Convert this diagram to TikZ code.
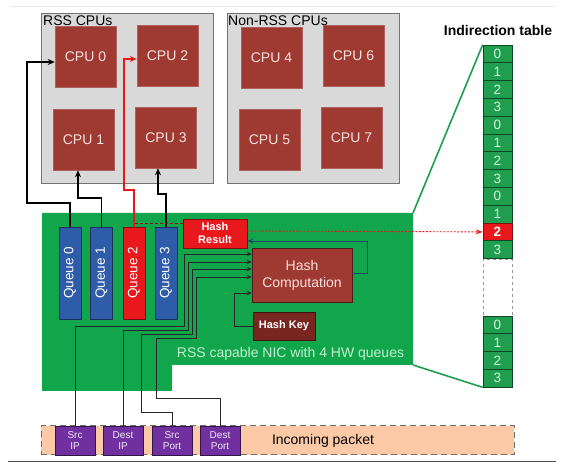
\documentclass[tikz,border=0pt]{standalone}
\usepackage{fontspec}
\setmainfont{Liberation Sans}
\usetikzlibrary{arrows.meta}
\definecolor{nicgreen}{RGB}{18,166,76}
\definecolor{tabgreen}{RGB}{30,158,78}
\definecolor{celltext}{RGB}{215,245,222}
\definecolor{nictext}{RGB}{195,240,205}
\definecolor{cpured}{RGB}{158,58,50}
\definecolor{cputext}{RGB}{250,225,220}
\definecolor{qblue}{RGB}{46,92,168}
\definecolor{hred}{RGB}{232,24,28}
\definecolor{keybrown}{RGB}{122,38,32}
\definecolor{fpurple}{RGB}{112,48,160}
\definecolor{peach}{RGB}{251,201,166}
\definecolor{boxgray}{RGB}{217,217,217}
\definecolor{fbteal}{RGB}{31,70,100}
\begin{document}
\begin{tikzpicture}[x=1pt,y=-1pt,
  graybox/.style={fill=boxgray, draw=gray!90!black, line width=0.9pt, minimum width=172pt, minimum height=170pt, inner sep=0pt},
  boxlabel/.style={anchor=base west, inner sep=0pt, font=\fontsize{14}{16}\selectfont},
  cpu/.style={fill=cpured, draw=cpured!80!white, line width=0.5pt, minimum width=61pt, minimum height=61pt, inner sep=0pt, text=cputext, font=\fontsize{14}{16}\selectfont},
  queue/.style={fill=qblue, draw=qblue!55!black, line width=0.6pt, rotate=90, minimum width=92pt, minimum height=22pt, inner sep=0pt, text=white, font=\fontsize{13.5}{15}\selectfont},
  redq/.style={queue, fill=hred, draw=hred!55!black},
  cell/.style={fill=tabgreen, draw=tabgreen!45!black, line width=0.6pt, minimum width=29pt, minimum height=17.8pt, inner sep=0pt, text=celltext, font=\fontsize{13.5}{15}\selectfont},
  redcell/.style={cell, fill=hred, draw=hred!55!black, text=white, font=\fontsize{13.5}{15}\selectfont\bfseries},
  gapbox/.style={draw=gray!80, dashed, line width=0.8pt, minimum width=29pt, minimum height=57pt, inner sep=0pt},
  trap/.style={draw=tabgreen, line width=1.6pt},
  hres/.style={fill=hred, draw=hred!55!black, line width=0.6pt, minimum width=64pt, minimum height=29pt, inner sep=0pt, align=center, text=white, font=\fontsize{11}{13}\selectfont\bfseries},
  hcomp/.style={fill=cpured, draw=cpured!50!black, line width=0.6pt, minimum width=100pt, minimum height=54pt, inner sep=0pt, align=center, text=cputext, font=\fontsize{14}{17}\selectfont},
  hkey/.style={fill=keybrown, draw=keybrown!50!black, line width=0.6pt, minimum width=62pt, minimum height=28pt, inner sep=0pt, text=white, font=\fontsize{11}{13}\selectfont\bfseries},
  field/.style={fill=fpurple, draw=fpurple!45!black, line width=0.6pt, minimum width=40pt, minimum height=29pt, inner sep=0pt, align=center, text=white!90!fpurple, font=\fontsize{10}{11.5}\selectfont},
  packet/.style={fill=peach, draw=gray!85!black, dash pattern=on 6pt off 4pt, line width=1pt, minimum width=473pt, minimum height=29pt, inner sep=0pt},
  cpuconn/.style={draw=black, line width=1.4pt, -{Stealth[length=7pt,width=6pt]}},
  redconn/.style={cpuconn, draw=hred},
  wire/.style={draw=black!85, line width=0.8pt},
  wirearrow/.style={wire, -{Stealth[length=5pt,width=4.5pt]}}
]
\useasboundingbox (0,0) rectangle (563,470);
\draw[gray!18, line width=0.6pt] (10,6) -- (555,6);
\draw[gray!60!black, line width=0.8pt] (8,461) -- (556,461);

% NIC
\fill[nicgreen] (42,213) -- (413,213) -- (413,365) -- (172,365) -- (172,391) -- (42,391) -- cycle;
\coordinate (nicTR) at (413,213);
\coordinate (nicBR) at (413,365);

% CPU boxes
\node[graybox] (rss) at (127,98) {};
\node[graybox] (nonrss) at (313,98) {};
\node[boxlabel] (rsslbl) at (43,26) {RSS CPUs};
\node[boxlabel] (nonrsslbl) at (228,26) {Non-RSS CPUs};
\node[cpu] (cpu0) at (85.5,57) {CPU 0};
\node[cpu] (cpu2) at (167.5,55.5) {CPU 2};
\node[cpu] (cpu1) at (83.5,139.5) {CPU 1};
\node[cpu] (cpu3) at (166,137.5) {CPU 3};
\node[cpu] (cpu4) at (271.5,57.5) {CPU 4};
\node[cpu] (cpu6) at (353.5,55.5) {CPU 6};
\node[cpu] (cpu5) at (269.5,139.5) {CPU 5};
\node[cpu] (cpu7) at (351.5,137.5) {CPU 7};

% Indirection table
\node[font=\fontsize{14}{16}\selectfont\bfseries] (ittitle) at (498,30) {Indirection table};
\node[gapbox] (gap) at (497.5,287.5) {};
\foreach \d [count=\i from 0] in {0,1,2,3,0,1,2,3,0,1}
  \node[cell] (t\i) at (497.5,{53.9+17.8*\i}) {\d};
\node[redcell] (t10) at (497.5,{53.9+17.8*10}) {2};
\node[cell] (t11) at (497.5,{53.9+17.8*11}) {3};
\foreach \d in {0,1,2,3}
  \node[cell] (b\d) at (497.5,{324.9+17.75*\d}) {\d};
\draw[trap] (nicTR) -- (t0.north west);
\draw[trap] (nicBR) -- (b3.south west);

% Queues and hash blocks
\node[queue] (q0) at (70,273) {Queue 0};
\node[queue] (q1) at (101.5,273) {Queue 1};
\node[redq] (q2) at (134,273) {Queue 2};
\node[queue] (q3) at (166,273) {Queue 3};
\node[hres] (hres) at (215,233.5) {Hash\\Result};
\node[hcomp] (hc) at (302,275) {Hash\\Computation};
\node[hkey] (hk) at (284,326) {Hash Key};
\node[font=\fontsize{14}{16}\selectfont, text=nictext] (niclbl) at (290.5,354) {RSS capable NIC with 4 HW queues};

% Packet
\node[packet] (pkt) at (277.5,440.5) {};
\node[font=\fontsize{14}{16}\selectfont] (pktlbl) at (323,441) {Incoming packet};
\node[field] (f1) at (75,440.5) {Src\\IP};
\node[field] (f2) at (123,440.5) {Dest\\IP};
\node[field] (f3) at (172,440.5) {Src\\Port};
\node[field] (f4) at (220,440.5) {Dest\\Port};

% Queue -> CPU
\draw[cpuconn] (q0.east) |- (27,203) |- (cpu0.west |- 0,62);
\draw[cpuconn] (q1.east) |- (78,198) -- (cpu1.south -| 78,0);
\draw[redconn] (q2.east) |- (124,190) |- (cpu2.west |- 0,59);
\draw[cpuconn] (q3.east) |- (158,194) -- (cpu3.south -| 158,0);

% Hash result links
\draw[draw=hred!60!black, line width=0.9pt, dash pattern=on 3pt off 2pt] (hres.west |- 0,223) -- (134,223);
\draw[draw=hred, line width=0.9pt, dash pattern=on 2pt off 1.5pt, -{Stealth[length=7pt,width=5pt]}] (hres.east |- 0,231) -- (t10.west);
\draw[draw=fbteal, line width=0.9pt, -{Stealth[length=6pt,width=5pt]}] (hc.east |- 0,273) -| (367,241) -- (hres.east |- 0,241);
\draw[wirearrow] (hk.west) -| (234,293) -- (hc.west |- 0,293);

% Packet fields -> hash computation
\draw[wirearrow] (f1.north) |- (184,326) |- (hc.west |- 0,254);
\draw[wirearrow] (f2.north) |- (188,330) |- (hc.west |- 0,262);
\draw[wirearrow] (f3.north) |- (141,412) |- (192,334) |- (hc.west |- 0,269);
\draw[wirearrow] (f4.north) |- (156,398) |- (196,338) |- (hc.west |- 0,277);
\end{tikzpicture}
\end{document}
